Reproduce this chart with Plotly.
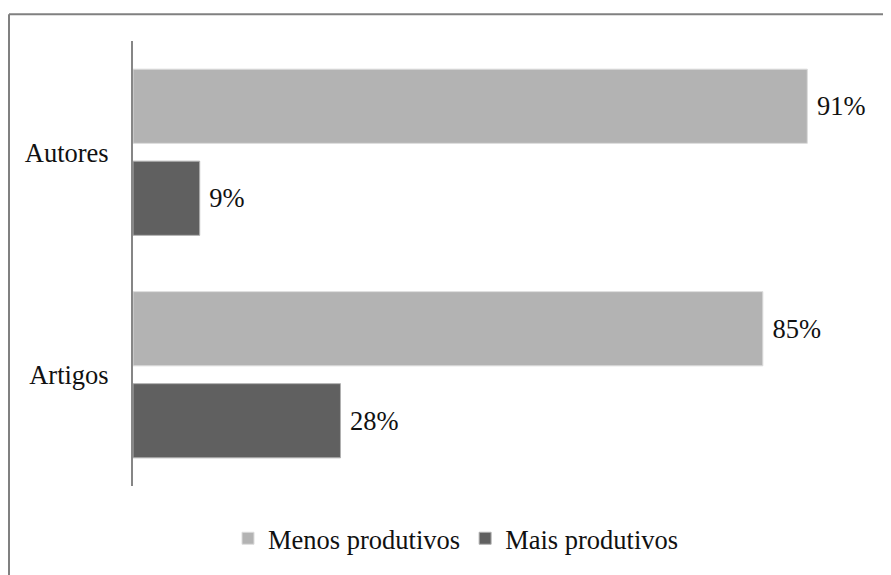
import plotly.graph_objects as go

categories = ["Autores", "Artigos"]
menos_produtivos = [0.91, 0.85]
mais_produtivos = [0.09, 0.28]
series_names = ["Menos produtivos", "Mais produtivos"]

# page offset from the default body margin
OFF = 8
W, H = 891 - OFF, 575 - OFF
# plot area in page pixels: x 133..874, y 41..490
PL, PR, PT, PB = 133, 874, 41, 490
L, T = PL - OFF, PT - OFF
R, B = W - (PR - OFF), H - (PB - OFF)
pw, ph = PR - PL, PB - PT

def px_x(px):
    return (px - PL) / pw

def px_y(py):
    return (PB - py) / ph

font = dict(family="Liberation Serif", size=26.5, color="#111111")

fig = go.Figure()
fig.add_trace(go.Bar(
    y=categories, x=menos_produtivos, name=series_names[0], orientation="h",
    marker=dict(color="#b3b3b3", line=dict(color="#dcdcdc", width=1)),
    texttemplate="\u00a0%{x:.0%}", textposition="outside", cliponaxis=False,
    textfont=font,
))
fig.add_trace(go.Bar(
    y=categories, x=mais_produtivos, name=series_names[1], orientation="h",
    marker=dict(color="#606060", line=dict(color="#b0b0b0", width=1)),
    texttemplate="\u00a0%{x:.0%}", textposition="outside", cliponaxis=False,
    textfont=font,
))

fig.update_layout(
    width=W, height=H,
    margin=dict(l=L, r=R, t=T, b=B),
    paper_bgcolor="white", plot_bgcolor="white",
    font=font,
    barmode="group", bargap=0.173, bargroupgap=0.1935,
    showlegend=True,
    legend=dict(orientation="h", x=px_x(456), xanchor="center", xref="paper",
                y=px_y(543), yanchor="middle", font=font,
                itemwidth=30, traceorder="normal"),
    xaxis=dict(range=[0, 1], visible=False, showgrid=False, zeroline=False),
    yaxis=dict(autorange="reversed", showline=True, linecolor="#868686", linewidth=2,
               ticks="", showgrid=False, ticklabelstandoff=17, tickfont=font),
    shapes=[
        dict(type="line", xref="paper", yref="paper", x0=px_x(9), x1=px_x(900),
             y0=px_y(14), y1=px_y(14), line=dict(color="#808080", width=2)),
        dict(type="line", xref="paper", yref="paper", x0=px_x(9), x1=px_x(9),
             y0=px_y(14), y1=px_y(590), line=dict(color="#808080", width=2)),
    ],
)

fig.write_html("out.html")
